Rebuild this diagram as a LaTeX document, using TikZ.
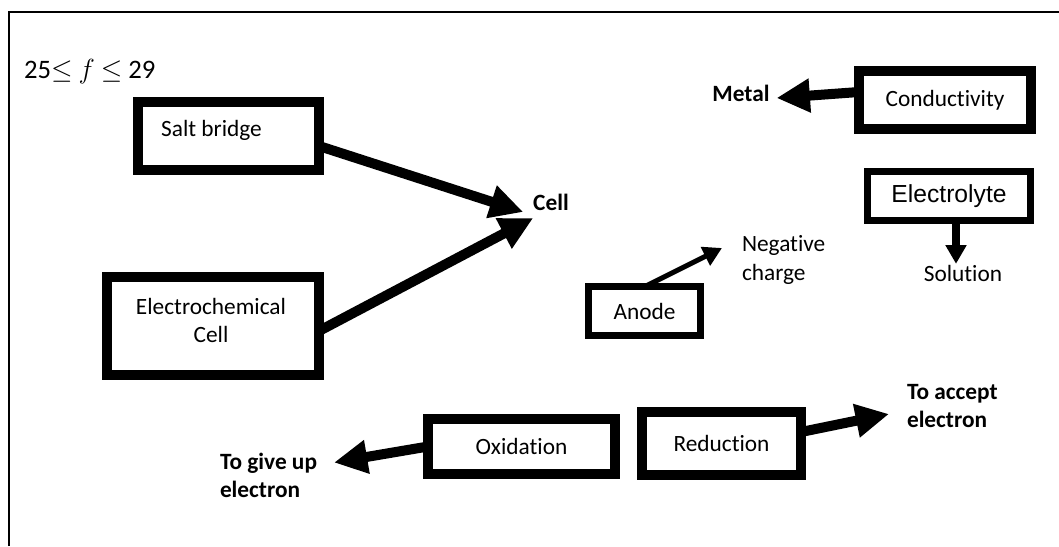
\documentclass[tikz,border=0pt]{standalone}
\usepackage{fontspec}
\setmainfont{Carlito}[Ligatures={NoCommon}]
\newfontfamily\arialfont{Liberation Sans}
\usetikzlibrary{arrows.meta,calc}
\begin{document}
\begin{tikzpicture}[x=0.75pt,y=-0.75pt,
  box/.style={draw, line width=7.5pt, rectangle, inner sep=0pt, outer sep=0pt,
    font=\fontsize{17.5}{21}\selectfont, align=center},
  thinbox/.style={box, line width=5.25pt},
  lbl/.style={inner sep=0pt, outer sep=0pt, font=\fontsize{17.5}{21.5}\selectfont, align=left},
  clbl/.style={lbl, align=center, font=\fontsize{17.5}{20.5}\selectfont},
  blbl/.style={lbl, font=\fontsize{17.5}{21.5}\selectfont\bfseries},
  bigarrow/.style={line width=7.5pt, -{Triangle[length=25pt,width=24pt]}},
  midarrow/.style={line width=6.5pt, -{Triangle[length=14pt,width=15pt]}},
  smallarrow/.style={line width=3.75pt, -{Triangle[length=14pt,width=15pt]}}
]
\useasboundingbox (0,0) rectangle (1059,546);
% frame
\draw[line width=1.5pt] (9,546) -- (9,12) -- (1059,12);

% formula
\node[lbl, anchor=west, font=\fontsize{20}{22}\selectfont] (range) at (24,72) {25$\leq$ $f$ $\leq$ 29};

% boxes
\node[box, minimum width=135.75pt, minimum height=51pt] (sb) at (228.5,136) {};
\node[lbl] (sbt) at (211.5,130) {Salt bridge};
\node[box, minimum width=159pt, minimum height=73.5pt] (ec) at (213,326) {};
\node[clbl] (ect) at (211,320.5) {Electrochemical\\Cell};
\node[box, minimum width=129pt, minimum height=43.1pt] (cond) at (945,100) {Conductivity};
\node[thinbox, minimum width=122.25pt, minimum height=36.75pt, font=\arialfont\fontsize{18.5}{21}\selectfont] (elec) at (949,196) {Electrolyte};
\node[thinbox, minimum width=84pt, minimum height=36.75pt] (anode) at (644.5,311) {Anode};
\node[box, minimum width=140.25pt, minimum height=41.25pt] (ox) at (521.5,446.5) {Oxidation};
\node[box, minimum width=119.25pt, minimum height=47.25pt] (red) at (721.5,443.5) {Reduction};

% labels
\node[blbl] (cell) at (551,202) {Cell};
\node[blbl] (metal) at (741,93) {Metal};
\node[lbl, anchor=west] (neg) at (742,260) {Negative\\charge};
\node[lbl] (sol) at (963,273) {Solution};
\node[blbl, anchor=west] (give) at (220,475.5) {To give up\\electron};
\node[blbl, anchor=west] (accept) at (907,406) {To accept\\electron};

% arrows
\draw[bigarrow] ($(sb.east)+(0,10)$) -- ($(cell.west)+(-10,10)$);
\draw[bigarrow] ($(ec.east)+(0,5)$) -- ($(cell.west)+(0,16)$);
\draw[bigarrow] ($(cond.west)+(0,-8)$) -- ($(metal.east)+(7,5)$);
\draw[smallarrow] ($(anode.north)+(0.5,0)$) -- ($(neg.west)+(-20,-12)$);
\draw[midarrow] ($(elec.south)+(7,0)$) -- ($(sol.north)+(-7,-1)$);
\draw[bigarrow] ($(ox.west)+(0,0)$) -- ($(give.east)+(17,-13)$);
\draw[bigarrow] ($(red.east)+(0,-11.5)$) -- ($(accept.west)+(-18,8)$);
\end{tikzpicture}
\end{document}
